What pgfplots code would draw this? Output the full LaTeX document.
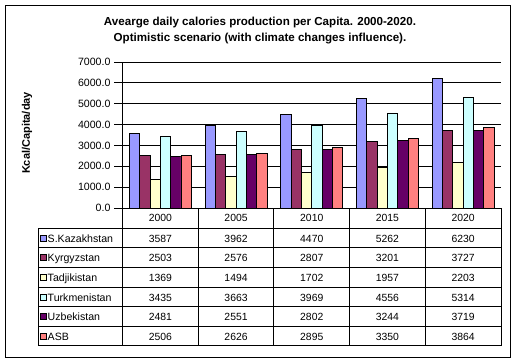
\documentclass[border=0pt]{standalone}
\usepackage{pgfplots}
\pgfplotsset{compat=1.18}
\usepackage{fontspec}
\setmainfont{Liberation Sans}
\definecolor{cKaz}{HTML}{9999FF}
\definecolor{cKyr}{HTML}{993366}
\definecolor{cTad}{HTML}{FFFFCC}
\definecolor{cTur}{HTML}{CCFFFF}
\definecolor{cUzb}{HTML}{660066}
\definecolor{cASB}{HTML}{FF8080}
\begin{document}
\begin{tikzpicture}[x=1bp,y=1bp]
\path (0,0) rectangle (517,363);
\draw[line width=0.8bp] (5,6) rectangle (510.5,358);
\node[font=\fontsize{11.6bp}{13bp}\selectfont\bfseries,anchor=base] at (260,338) {Avearge daily calories production per Capita. 2000-2020.};
\node[font=\fontsize{11.6bp}{13bp}\selectfont\bfseries,anchor=base] at (260,321.3) {Optimistic scenario (with climate changes influence).};
\node[font=\fontsize{11bp}{13bp}\selectfont\bfseries,rotate=90] at (27,230) {Kcal/Capita/day};
\begin{axis}[
  at={(122.5bp,155bp)}, anchor=south west,
  scale only axis, width=378.5bp, height=146bp,
  ybar=0pt, bar width=10.3bp,
  xmin=-0.5, xmax=4.5, ymin=0, ymax=7000,
  xtick=\empty,
  ytick={0,1000,...,7000},
  yticklabel style={font=\fontsize{10.6bp}{12bp}\selectfont, /pgf/number format/.cd, fixed, fixed zerofill, precision=1, 1000 sep={}, assume math mode=true},
  axis x line*=bottom, axis y line*=left,
  axis line style={line width=0.9bp,-},
  tick align=outside, major tick length=8.5bp,
  tick style={line width=0.9bp,black},
  ymajorgrids, grid style={line width=0.9bp,black},
  every axis plot/.append style={draw=black,line width=0.8bp},
  clip=false,
]
\addplot[fill=cKaz] coordinates {(0,3587) (1,3962) (2,4470) (3,5262) (4,6230)};
\addplot[fill=cKyr] coordinates {(0,2503) (1,2576) (2,2807) (3,3201) (4,3727)};
\addplot[fill=cTad] coordinates {(0,1369) (1,1494) (2,1702) (3,1957) (4,2203)};
\addplot[fill=cTur] coordinates {(0,3435) (1,3663) (2,3969) (3,4556) (4,5314)};
\addplot[fill=cUzb] coordinates {(0,2481) (1,2551) (2,2802) (3,3244) (4,3719)};
\addplot[fill=cASB] coordinates {(0,2506) (1,2626) (2,2895) (3,3350) (4,3864)};
\end{axis}
% data table
\def\rh{19.57}
\foreach \k in {0,...,5} {
  \draw[line width=0.9bp] ({122.5+\k*75.7},155) -- ({122.5+\k*75.7},17.3);
}
\draw[line width=0.9bp] (38,134.7) -- (38,17.3);
\foreach \i in {0,...,6} {
  \draw[line width=0.9bp] (38,{134.7-\i*\rh}) -- (501,{134.7-\i*\rh});
}
\foreach \y [count=\k from 0] in {2000,2005,2010,2015,2020} {
  \node[font=\fontsize{10.4bp}{12bp}\selectfont,anchor=base] at ({122.5+(\k+0.5)*75.7},141.5) {\y};
}
\foreach \name/\col [count=\i from 0] in {S.Kazakhstan/cKaz,Kyrgyzstan/cKyr,Tadjikistan/cTad,Turkmenistan/cTur,Uzbekistan/cUzb,ASB/cASB} {
  \filldraw[fill=\col,draw=black,line width=0.6bp] (40,{134.7-(\i+0.5)*\rh-3}) rectangle (46,{134.7-(\i+0.5)*\rh+3});
  \node[font=\fontsize{10.6bp}{12bp}\selectfont,anchor=base west,inner sep=0pt] at (47.5,{134.7-(\i+0.5)*\rh-4.2}) {\name};
}
\foreach \row [count=\i from 0] in {
  {3587,3962,4470,5262,6230},
  {2503,2576,2807,3201,3727},
  {1369,1494,1702,1957,2203},
  {3435,3663,3969,4556,5314},
  {2481,2551,2802,3244,3719},
  {2506,2626,2895,3350,3864}} {
  \foreach \v [count=\k from 0] in \row {
    \node[font=\fontsize{10.4bp}{12bp}\selectfont,anchor=base] at ({122.5+(\k+0.5)*75.7},{134.7-(\i+0.5)*\rh-4.2}) {\v};
  }
}
\end{tikzpicture}
\end{document}
